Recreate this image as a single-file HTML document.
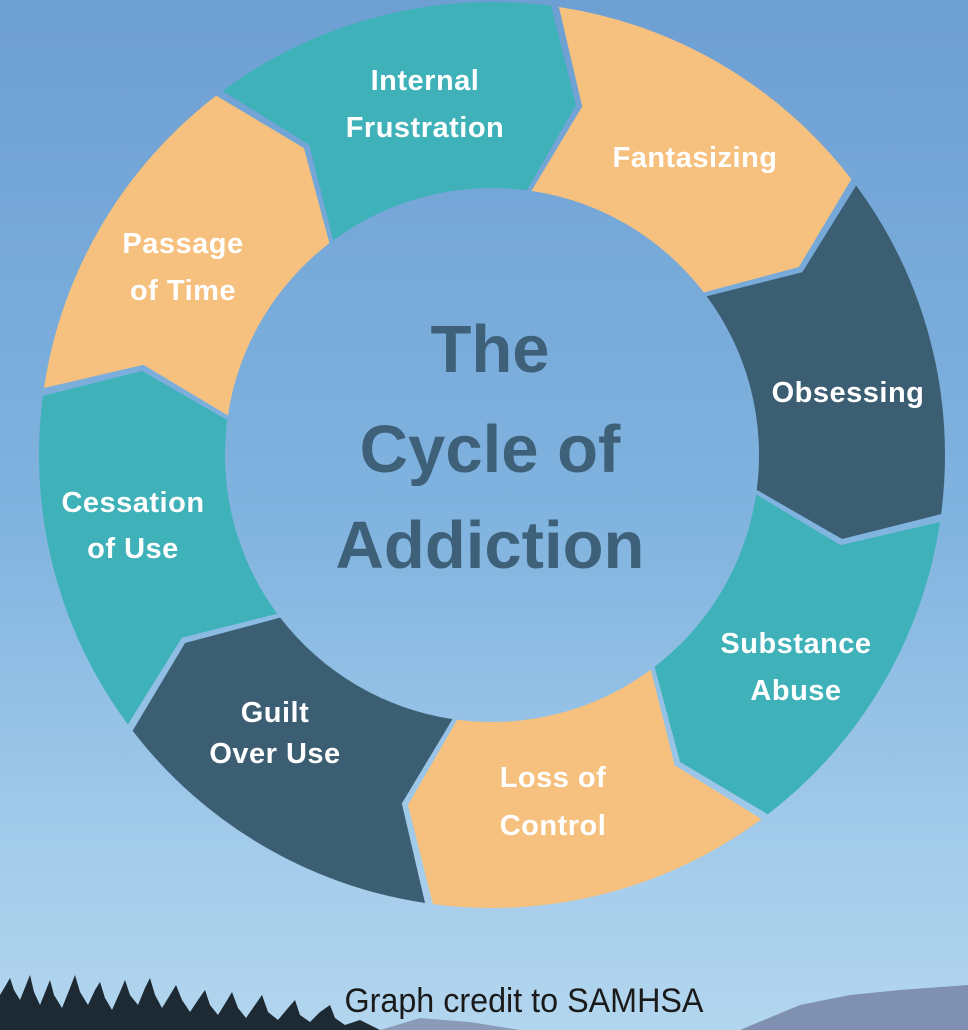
<!DOCTYPE html>
<html><head><meta charset="utf-8"><style>
html,body{margin:0;padding:0;width:968px;height:1030px;overflow:hidden}
body{background:linear-gradient(180deg,#6e9fd3 0%,#80b3df 50%,#a6cdeb 85%,#b3d6ef 100%)}
svg{position:absolute;left:0;top:0}
.l{font-family:"Liberation Sans",sans-serif;font-weight:bold;font-size:29px;fill:#fff;text-anchor:middle;letter-spacing:0.5px}
.c{font-family:"Liberation Sans",sans-serif;font-weight:bold;font-size:67px;fill:#3e6179;text-anchor:middle}
</style></head><body>
<svg width="968" height="1030" viewBox="0 0 968 1030">
<defs>
<path id="seg" d="M -169.7 -420 A 453 453 0 0 1 169.7 -420 L 169 -317.8 L 100 -247.6 A 267 267 0 0 0 -100 -247.6 L -99.2 -346.1 Z"/>
</defs>
<g transform="translate(492 455)">
<use href="#seg" fill="#3fb1b9" transform="rotate(-14.5)"/>
<use href="#seg" fill="#f6c17f" transform="rotate(30.5)"/>
<use href="#seg" fill="#3c5e73" transform="rotate(75.5)"/>
<use href="#seg" fill="#3fb1b9" transform="rotate(120.5)"/>
<use href="#seg" fill="#f6c17f" transform="rotate(165.5)"/>
<use href="#seg" fill="#3c5e73" transform="rotate(210.5)"/>
<use href="#seg" fill="#3fb1b9" transform="rotate(255.5)"/>
<use href="#seg" fill="#f6c17f" transform="rotate(300.5)"/>
</g>
<text class="l" x="425" y="90">Internal</text>
<text class="l" x="425" y="137">Frustration</text>
<text class="l" x="695" y="167">Fantasizing</text>
<text class="l" x="848" y="402">Obsessing</text>
<text class="l" x="796" y="653">Substance</text>
<text class="l" x="796" y="700">Abuse</text>
<text class="l" x="553" y="787">Loss of</text>
<text class="l" x="553" y="835">Control</text>
<text class="l" x="275" y="722">Guilt</text>
<text class="l" x="275" y="763">Over Use</text>
<text class="l" x="133" y="512">Cessation</text>
<text class="l" x="133" y="558">of Use</text>
<text class="l" x="183" y="253">Passage</text>
<text class="l" x="183" y="300">of Time</text>
<text class="c" x="490" y="372">The</text>
<text class="c" x="490" y="472">Cycle of</text>
<text class="c" x="490" y="568">Addiction</text>
<polygon points="740,1030 800,1005 850,995 900,990 968,985 968,1030" fill="#7f90b0"/>
<polygon points="380,1030 420,1018 470,1022 520,1030" fill="#8a9bb8"/>
<g fill="#1e2a33">
<polygon points="0,1030 0,995 6,985 10,978 14,990 20,1000 26,985 30,975 34,992 40,1005 46,990 50,980 54,995 62,1008 70,988 75,975 80,992 88,1005 95,990 100,982 105,998 112,1010 120,992 125,980 130,995 138,1005 145,988 150,978 155,995 162,1008 170,995 176,985 182,1000 190,1012 198,1000 205,990 210,1005 218,1015 226,1002 232,992 238,1008 246,1018 255,1005 262,995 268,1012 278,1020 288,1008 295,1000 300,1015 310,1022 320,1012 330,1005 335,1018 345,1025 360,1020 380,1030"/>
</g>
<text x="524" y="1012" text-anchor="middle" font-family="'Liberation Sans Narrow','Liberation Sans',sans-serif" font-size="34" fill="#1a1a1a" transform="translate(524 0) scale(0.95 1) translate(-524 0)">Graph credit to SAMHSA</text>
</svg>
</body></html>
